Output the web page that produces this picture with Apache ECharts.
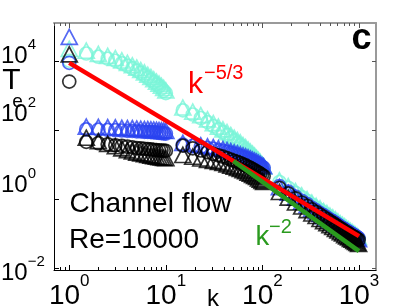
<!DOCTYPE html>
<html><head><meta charset="utf-8">
<script src="https://cdn.jsdelivr.net/npm/echarts@6/dist/echarts.min.js"></script>
<style>html,body{margin:0;padding:0;background:#fff}#c{width:415px;height:308px}</style>
</head><body><div id="c"></div>
<script>
// ---- data ----
const kValues = [1,
  1.5, 2, 2.5, 3, 3.5, 4, 4.5, 5, 5.5, 6, 6.5, 7, 7.5, 8, 8.5, 9, 9.5, 10,
  15, 19, 23, 27, 31, 35, 39, 43, 47, 51, 55, 59, 63, 67, 71, 75, 79, 83, 87, 91, 95, 99, 103,
  150, 185, 220, 255, 290, 325, 360, 395, 430, 465, 500, 535, 570, 605, 640, 675, 710, 745, 780, 815, 850, 885, 920, 955, 990];
const cyanTriangle = [22000,
  19500, 15800, 13800, 12000, 10200, 8700, 7400, 6300, 5400, 4600, 3940, 3400, 2920, 2500, 2190, 1900, 1640, 1400,
  447, 339, 269, 204, 158, 126, 105, 87, 72, 60, 51, 44, 37, 32, 27.5, 24, 20.9, 18.2, 15.8, 13.8, 12.0, 10.2, 8.9,
  3.55, 2.42, 1.73, 1.30, 1.02, 0.80, 0.65, 0.55, 0.46, 0.40, 0.34, 0.30, 0.263, 0.231, 0.203, 0.183, 0.165, 0.148, 0.136, 0.123, 0.113, 0.104, 0.096, 0.088, 0.081];
const cyanCircle = [10000,
  16200, 13100, 11500, 10000, 8500, 7200, 6100, 5200, 4500, 3800, 3270, 2800, 2420, 2080, 1820, 1580, 1360, 1160,
  371, 281, 223, 169, 131, 105, 87, 72, 60, 50, 42, 36.5, 31, 26.5, 22.8, 20, 17.3, 15.1, 13.1, 11.5, 10, 8.5, 7.4,
  3.16, 2.15, 1.54, 1.16, 0.91, 0.71, 0.58, 0.49, 0.41, 0.356, 0.30, 0.267, 0.234, 0.206, 0.181, 0.163, 0.147, 0.132, 0.121, 0.109, 0.101, 0.093, 0.085, 0.078, 0.072];
const blueTriangle = [49000,
  126, 124, 121, 119, 116, 114, 113, 110, 109, 107, 106, 104, 103, 101, 100, 98, 96, 95,
  42.6, 38.9, 36.3, 33.8, 32.3, 29.5, 28.1, 26.2, 24.5, 22.8, 21.4, 19.9, 18.6, 17.4, 16.2, 15.1, 14.1, 13.1, 12.3, 11.4, 10.6, 9.7, 9.1,
  2.25, 1.55, 1.12, 0.85, 0.68, 0.54, 0.45, 0.38, 0.325, 0.284, 0.246, 0.219, 0.195, 0.174, 0.155, 0.142, 0.129, 0.118, 0.110, 0.100, 0.093, 0.087, 0.082, 0.076, 0.071];
const blueCircle = [8700,
  105, 103, 101, 99, 97, 95, 94, 92, 91, 89, 88, 87, 86, 84, 83, 82, 80, 79,
  38, 34.7, 32.4, 30.2, 28.8, 26.3, 25.1, 23.4, 21.9, 20.4, 19.1, 17.8, 16.6, 15.5, 14.5, 13.5, 12.6, 11.7, 11.0, 10.2, 9.5, 8.7, 8.1,
  2.40, 1.66, 1.20, 0.91, 0.73, 0.57, 0.48, 0.40, 0.35, 0.30, 0.262, 0.234, 0.208, 0.186, 0.166, 0.151, 0.138, 0.125, 0.118, 0.106, 0.100, 0.093, 0.087, 0.081, 0.076];
const blackTriangle = [15300,
  60, 48, 40, 34, 29.5, 26.3, 24, 22.4, 21.2, 20, 19.1, 18.2, 17.6, 17, 16.6, 16.2, 15.8, 15.5,
  19.1, 17.0, 15.1, 13.8, 12.9, 12.0, 11.2, 10.2, 9.3, 8.7, 8.1, 7.6, 6.9, 6.5, 5.9, 5.5, 5.1, 4.7, 4.4, 4.0, 3.7, 3.4, 3.2,
  1.63, 1.12, 0.81, 0.62, 0.49, 0.39, 0.33, 0.27, 0.236, 0.205, 0.178, 0.159, 0.141, 0.126, 0.112, 0.103, 0.093, 0.085, 0.080, 0.072, 0.068, 0.063, 0.059, 0.055, 0.052];
const blackCircle = [2500,
  45.7, 41.7, 38.9, 36.3, 34.7, 33.1, 31.6, 30.2, 29.5, 28.8, 28.1, 27.5, 26.9, 26.3, 26, 25.7, 25.4, 25.1,
  35.5, 29.5, 25.7, 22.9, 20.4, 18.6, 17.0, 15.5, 14.1, 12.9, 12.0, 11.2, 10.2, 9.5, 8.7, 8.1, 7.4, 6.9, 6.3, 5.9, 5.5, 5.0, 4.7,
  2.14, 1.48, 1.07, 0.81, 0.65, 0.51, 0.43, 0.36, 0.31, 0.27, 0.234, 0.209, 0.186, 0.166, 0.148, 0.135, 0.123, 0.112, 0.105, 0.095, 0.089, 0.083, 0.078, 0.072, 0.068];
// reference power laws
const redLineK = [1, 1000];
const redLineT = [8700, 0.087];      // k^-5/3
const greenLineK = [50, 1000];
const greenLineT = [12.8, 0.032];    // k^-2
// tick labels (powers of ten)
const xTickExponents = [0, 1, 2, 3];
const yTickExponents = [-2, 0, 2, 4];

// ---- layout / style ----
const FONT = 'Liberation Sans';
const X_MIN = -0.158, X_MAX = 3.176;   // log10(k) range
const Y_MIN = -2.04, Y_MAX = 5.09;     // log10(T) range
const CYAN = '#7af5d8', BLUE = '#2a44f0', BLACK = '#000000', RED = '#ff0000', GREEN = '#2a9a1e';
const FRAME = '#9a9a9a';

const lg = Math.log10;
const minorTicks = [];
for (let d = -1; d <= 3; d++) for (let m = 2; m <= 9; m++) {
  const v = lg(m) + d; if (v > X_MIN && v < X_MAX) minorTicks.push(v);
}
const supText = v => (v < 0 ? '\u2212' + (-v) : String(v));
const keyOf = v => (v < 0 ? 'm' + (-v) : 'p' + v);

// y labels: base 24px, sup 15px; individual vertical shift of label relative to tick
const yLabelShift = { '-2': 5, '0': -14, '2': -16, '4': -4.2 };
const Y_RAISE = 11.5;
const yRich = {};
yTickExponents.forEach(v => {
  const t = yLabelShift[String(v)];
  const d = 2 * t + 4.5 - Y_RAISE;
  const pst = d >= 0 ? d : 0, pbb = d >= 0 ? 0 : -d;
  const H = Y_RAISE + 19.5 + pbb + pst;
  yRich['b' + keyOf(v)] = { fontSize: 24, fontFamily: FONT, color: '#000', verticalAlign: 'bottom', padding: [0, 0, pbb, 0] };
  yRich['s' + keyOf(v)] = { fontSize: 15, fontFamily: FONT, color: '#000', verticalAlign: 'top', padding: [pst, 0, H - 15 - pst, 0] };
});
// x labels: base 28px, sup 17px
const X_RAISE = 15.7;
const XH = X_RAISE + 14 + 8.5;
const xRich = {
  b: { fontSize: 28, fontFamily: FONT, color: '#000', verticalAlign: 'bottom' },
  s: { fontSize: 17, fontFamily: FONT, color: '#000', verticalAlign: 'top', padding: [0, 0, XH - 17, 0] }
};

function scatter(vals, symbol, color, size) {
  return {
    type: 'scatter', symbol, symbolSize: size, silent: true,
    itemStyle: { color: 'rgba(0,0,0,0)', borderColor: color, borderWidth: 1.7 },
    data: kValues.map((k, i) => [lg(k), lg(vals[i])])
  };
}
function powerLine(ks, ts, color) {
  return {
    type: 'line', symbol: 'none', silent: true, z: 5,
    lineStyle: { color, width: 4.5, cap: 'butt' },
    data: ks.map((k, i) => [lg(k), lg(ts[i])])
  };
}
const TRI = [16, 15], CIR = 13;

function xAxisDef(position, ticks, len, showLine, showLabel, lineColor, tickColor) {
  return {
    type: 'value', position, min: X_MIN, max: X_MAX, splitLine: { show: false },
    axisLine: { show: showLine, onZero: false, lineStyle: { color: lineColor, width: position === 'top' ? 2 : 1 } },
    axisTick: { show: true, inside: true, length: len, customValues: ticks, lineStyle: { color: tickColor, width: 1 } },
    axisLabel: showLabel ? {
      customValues: xTickExponents, margin: 2.5,
      formatter: v => '{b|10}{s|' + supText(Math.round(v)) + '}', rich: xRich
    } : { show: false },
    name: showLabel ? 'k' : '', nameLocation: 'middle', nameGap: 29, nameMoveOverlap: false,
    nameTextStyle: { fontSize: 24, fontFamily: FONT, color: '#000', verticalAlign: 'middle', padding: [0, 4, 0, 0] }
  };
}
const txt = (x, y, text, size, color, weight) => ({
  type: 'text', x, y, silent: true,
  style: { text, fontSize: size, fontWeight: weight || 'normal', fontFamily: FONT, fill: color,
    align: 'left', verticalAlign: 'middle', textAlign: 'left', textVerticalAlign: 'middle' }
});

const option = {
  animation: false,
  grid: { left: 54, right: 39, top: 23, bottom: 38, containLabel: false, outerBoundsMode: 'none' },
  xAxis: [
    xAxisDef('bottom', xTickExponents, 5, true, true, '#000', '#000'),
    xAxisDef('bottom', minorTicks, 3, false, false, '#000', '#000'),
    xAxisDef('top', xTickExponents, 5, true, false, FRAME, '#555'),
    xAxisDef('top', minorTicks, 3, false, false, FRAME, '#555')
  ],
  yAxis: [
    {
      type: 'value', position: 'left', min: Y_MIN, max: Y_MAX, splitLine: { show: false },
      axisLine: { show: true, onZero: false, lineStyle: { color: '#000', width: 1 } },
      axisTick: { show: true, inside: true, length: 5, customValues: yTickExponents, lineStyle: { color: '#000' } },
      axisLabel: {
        customValues: yTickExponents, align: 'left', margin: 53,
        formatter: v => { const r = Math.round(v); return '{b' + keyOf(r) + '|10}{s' + keyOf(r) + '|' + supText(r) + '}'; },
        rich: yRich
      }
    },
    {
      type: 'value', position: 'right', min: Y_MIN, max: Y_MAX, splitLine: { show: false },
      axisLine: { show: true, onZero: false, lineStyle: { color: FRAME, width: 2 } },
      axisTick: { show: true, inside: true, length: 4, customValues: yTickExponents, lineStyle: { color: '#555' } },
      axisLabel: { show: false }
    }
  ],
  series: [
    scatter(cyanTriangle, 'triangle', CYAN, TRI),
    scatter(cyanCircle, 'circle', CYAN, CIR),
    scatter(blueTriangle, 'triangle', BLUE, TRI),
    scatter(blueCircle, 'circle', BLUE, CIR),
    scatter(blackTriangle, 'triangle', BLACK, TRI),
    scatter(blackCircle, 'circle', BLACK, CIR),
    powerLine(redLineK, redLineT, RED),
    powerLine(greenLineK, greenLineT, GREEN)
  ],
  graphic: [
    txt(2.3, 81, 'T', 30, '#000'),
    txt(12.2, 101.4, 'e', 19, '#000'),
    txt(69.6, 204.3, 'Channel flow', 28, '#000'),
    txt(69, 240.3, 'Re=10000', 28, '#000'),
    txt(351.5, 39.5, 'c', 36, '#000', 'bold'),
    txt(188, 84.6, 'k', 30, RED),
    txt(204, 73.8, '\u22125/3', 20, RED),
    txt(255.5, 237.5, 'k', 27.5, GREEN),
    txt(269, 227.5, '\u22122', 20, GREEN)
  ]
};
const chart = echarts.init(document.getElementById('c'), null, { renderer: 'canvas' });
chart.setOption(option);
</script>
</body></html>
